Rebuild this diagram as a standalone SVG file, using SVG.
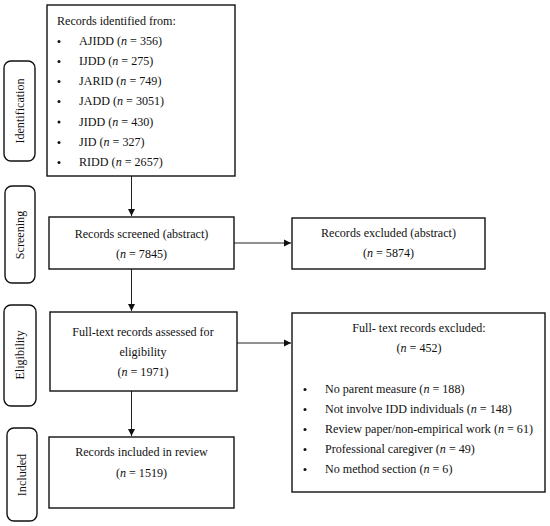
<svg xmlns="http://www.w3.org/2000/svg" width="550" height="526" viewBox="0 0 550 526">
<style>
text{font-family:"Liberation Serif","DejaVu Serif",serif;font-size:12.1px;fill:#111}
.c{text-anchor:middle}
.box{fill:#fff;stroke:#111;stroke-width:1.4}
.side{fill:#fff;stroke:#111;stroke-width:1.4}
.ln{stroke:#222;stroke-width:1;fill:none}
.b{fill:#111}
</style>
<defs>
<marker id="ah" markerWidth="8" markerHeight="8" refX="7" refY="4" orient="auto" markerUnits="userSpaceOnUse">
<path d="M0,0.5 L7,4 L0,7.5 Z" fill="#111"/>
</marker>
</defs>
<rect width="550" height="526" fill="#fff"/>
<g id="stage-identification">
<rect class="side" x="4" y="61" width="31" height="100" rx="7"/>
<text class="c" transform="translate(24,111) rotate(-90)">Identification</text>
</g>
<g id="stage-screening">
<rect class="side" x="5" y="186" width="30" height="97" rx="7"/>
<text class="c" transform="translate(24,235) rotate(-90)">Screening</text>
</g>
<g id="stage-eligibility">
<rect class="side" x="4" y="305" width="32" height="101" rx="7"/>
<text class="c" transform="translate(24,355) rotate(-90)">Eligibility</text>
</g>
<g id="stage-included">
<rect class="side" x="7" y="428" width="30" height="93" rx="7"/>
<text class="c" transform="translate(26,475) rotate(-90)">Included</text>
</g>
<g id="connectors">
<line class="ln" x1="131.5" y1="176" x2="131.5" y2="216" marker-end="url(#ah)"/>
<line class="ln" x1="131.5" y1="269" x2="131.5" y2="311" marker-end="url(#ah)"/>
<line class="ln" x1="131.5" y1="391" x2="131.5" y2="436" marker-end="url(#ah)"/>
<line class="ln" x1="234" y1="243" x2="291" y2="243" marker-end="url(#ah)"/>
<line class="ln" x1="235" y1="343" x2="291" y2="343" marker-end="url(#ah)"/>
</g>
<g id="identified">
<rect class="box" x="47" y="5" width="188" height="171"/>
<text x="57" y="25">Records identified from:</text>
<circle class="b" cx="59" cy="41.5" r="1.5"/><text x="79" y="45">AJIDD (<tspan font-style="italic">n</tspan> = 356)</text>
<circle class="b" cx="59" cy="61.5" r="1.5"/><text x="79" y="65">IJDD (<tspan font-style="italic">n</tspan> = 275)</text>
<circle class="b" cx="59" cy="81.5" r="1.5"/><text x="79" y="85">JARID (<tspan font-style="italic">n</tspan> = 749)</text>
<circle class="b" cx="59" cy="101.5" r="1.5"/><text x="79" y="105">JADD (<tspan font-style="italic">n</tspan> = 3051)</text>
<circle class="b" cx="59" cy="122" r="1.5"/><text x="79" y="125.5">JIDD (<tspan font-style="italic">n</tspan> = 430)</text>
<circle class="b" cx="59" cy="142.5" r="1.5"/><text x="79" y="146">JID (<tspan font-style="italic">n</tspan> = 327)</text>
<circle class="b" cx="59" cy="162.5" r="1.5"/><text x="79" y="166">RIDD (<tspan font-style="italic">n</tspan> = 2657)</text>
</g>
<g id="screened">
<rect class="box" x="49" y="217" width="185" height="52"/>
<text class="c" x="141.5" y="238">Records screened (abstract)</text>
<text class="c" x="141.5" y="258">(<tspan font-style="italic">n</tspan> = 7845)</text>
</g>
<g id="excluded-abstract">
<rect class="box" x="292" y="218" width="193" height="51"/>
<text class="c" x="388.5" y="237">Records excluded (abstract)</text>
<text class="c" x="388.5" y="257">(<tspan font-style="italic">n</tspan> = 5874)</text>
</g>
<g id="assessed">
<rect class="box" x="50" y="312" width="187" height="79"/>
<text class="c" x="143" y="336">Full-text records assessed for</text>
<text class="c" x="143" y="356">eligibility</text>
<text class="c" x="143" y="376">(<tspan font-style="italic">n</tspan> = 1971)</text>
</g>
<g id="excluded-fulltext">
<rect class="box" x="292" y="313" width="253" height="179"/>
<text class="c" x="419" y="332">Full- text records excluded:</text>
<text class="c" x="419" y="352">(<tspan font-style="italic">n</tspan> = 452)</text>
<circle class="b" cx="305" cy="389.5" r="1.5"/><text x="325" y="393">No parent measure (<tspan font-style="italic">n</tspan> = 188)</text>
<circle class="b" cx="305" cy="409.5" r="1.5"/><text x="325" y="413">Not involve IDD individuals (<tspan font-style="italic">n</tspan> = 148)</text>
<circle class="b" cx="305" cy="429.5" r="1.5"/><text x="325" y="433">Review paper/non-empirical work (<tspan font-style="italic">n</tspan> = 61)</text>
<circle class="b" cx="305" cy="449.5" r="1.5"/><text x="325" y="453">Professional caregiver (<tspan font-style="italic">n</tspan> = 49)</text>
<circle class="b" cx="305" cy="469.5" r="1.5"/><text x="325" y="473">No method section (<tspan font-style="italic">n</tspan> = 6)</text>
</g>
<g id="included">
<rect class="box" x="49" y="437" width="185" height="71"/>
<text class="c" x="141.5" y="456">Records included in review</text>
<text class="c" x="141.5" y="477">(<tspan font-style="italic">n</tspan> = 1519)</text>
</g>
</svg>
